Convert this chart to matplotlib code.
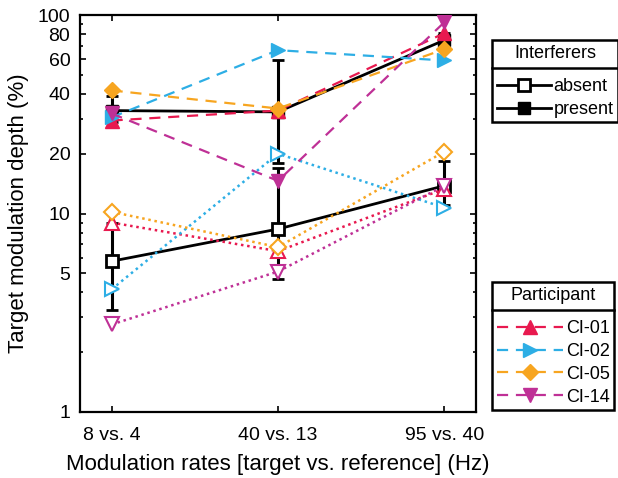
import matplotlib
matplotlib.use("Agg")
import matplotlib.pyplot as plt
from matplotlib.lines import Line2D

plt.rcParams['font.family'] = ['Liberation Sans', 'DejaVu Sans']

# conditions on the x axis
conditions = ['8 vs. 4', '40 vs. 13', '95 vs. 40']
xpos = [1, 2, 3]

# group means (target modulation depth, %)
mean_present = [33.0, 32.5, 74.7]
mean_present_lo = [29.0, 18.0, 68.0]
mean_present_hi = [39.0, 59.0, 81.0]
mean_absent = [5.75, 8.35, 13.8]
mean_absent_lo = [3.25, 4.7, 11.0]
mean_absent_hi = [9.0, 17.0, 18.4]

# individual participants
participants = ['CI-01', 'CI-02', 'CI-05', 'CI-14']
present = {
    'CI-01': [29.4, 33.0, 81.0],
    'CI-02': [30.5, 66.5, 59.0],
    'CI-05': [41.7, 33.8, 67.3],
    'CI-14': [31.9, 14.6, 92.0],
}
absent = {
    'CI-01': [9.0, 6.46, 13.3],
    'CI-02': [4.15, 20.0, 10.7],
    'CI-05': [10.2, 6.77, 20.5],
    'CI-14': [2.76, 5.1, 13.8],
}
colors = {'CI-01': '#E8194F', 'CI-02': '#2DAEE5', 'CI-05': '#F7A520', 'CI-14': '#BF3096'}
markers = {'CI-01': '^', 'CI-02': '>', 'CI-05': 'D', 'CI-14': 'v'}
msizes = {'CI-01': 10, 'CI-02': 10, 'CI-05': 8, 'CI-14': 10}

fig = plt.figure(figsize=(6.18, 4.78), dpi=100)
ax = fig.add_axes([80 / 618, 1 - 412 / 478, (476 - 80) / 618, (412 - 15) / 478])

# group means with error bars
ax.errorbar(xpos, mean_present,
            yerr=[[m - l for m, l in zip(mean_present, mean_present_lo)],
                  [h - m for m, h in zip(mean_present, mean_present_hi)]],
            color='black', lw=2, marker='s', ms=9, mfc='black', mec='black',
            capsize=4, capthick=2, elinewidth=2.2, zorder=2)
ax.errorbar(xpos, mean_absent,
            yerr=[[m - l for m, l in zip(mean_absent, mean_absent_lo)],
                  [h - m for m, h in zip(mean_absent, mean_absent_hi)]],
            color='black', lw=2, marker='s', ms=9, mfc='white', mec='black', mew=2,
            capsize=4, capthick=2, elinewidth=2.2, zorder=2)

for p in participants:
    c = colors[p]
    ax.plot(xpos, present[p], color=c, lw=1.6, ls=(0, (5, 3.5)),
            marker=markers[p], ms=msizes[p], mfc=c, mec=c, zorder=3)
    ax.plot(xpos, absent[p], color=c, lw=1.8, ls=(0, (1, 1.5)),
            marker=markers[p], ms=msizes[p], mfc='white', mec=c, mew=1.5, zorder=3)

ax.set_yscale('log')
ax.set_ylim(1, 100)
ax.set_xlim(0.81, 3.19)
ax.set_yticks([1, 5, 10, 20, 40, 60, 80, 100])
ax.set_yticklabels(['1', '5', '10', '20', '40', '60', '80', '100'])
ax.set_yticks([2, 3, 4, 6, 7, 8, 9, 30, 50, 70, 90], minor=True)
ax.set_xticks(xpos)
ax.set_xticklabels(conditions)
ax.tick_params(which='both', direction='in', top=True, right=True, labelsize=14,
               width=1.2, color='black')
ax.tick_params(which='major', length=4.5)
ax.tick_params(which='minor', length=2.5, labelleft=False)
ax.tick_params(axis='x', which='minor', bottom=False, top=False)
ax.tick_params(axis='x', pad=11)
ax.tick_params(axis='y', pad=7)
for s in ax.spines.values():
    s.set_linewidth(1.6)

ax.set_xlabel('Modulation rates [target vs. reference] (Hz)', fontsize=16, labelpad=7)
ax.set_ylabel('Target modulation depth (%)', fontsize=16, labelpad=6)

# legends
leg_kw = dict(loc='upper left', bbox_transform=fig.transFigure, fontsize=13,
              title_fontsize=13, handletextpad=0.15, borderpad=0.25,
              labelspacing=0.32, borderaxespad=0, fancybox=False, edgecolor='black',
              framealpha=1)

h_int = [Line2D([], [], color='black', lw=2, marker='s', ms=9, mfc='white', mec='black', mew=2),
         Line2D([], [], color='black', lw=2, marker='s', ms=9, mfc='black', mec='black')]
leg1 = ax.legend(h_int, ['absent', 'present'], title='Interferers', handlelength=3.0,
                 bbox_to_anchor=(492 / 618, 1 - 40 / 478), **leg_kw)
leg1.get_frame().set_linewidth(1.8)
leg1._legend_box.sep = 12
ax.add_artist(leg1)

h_par = [Line2D([], [], color=colors[p], lw=1.6, ls=(0, (5, 3.5)), marker=markers[p],
                ms=msizes[p], mfc=colors[p], mec=colors[p]) for p in participants]
leg2 = ax.legend(h_par, participants, title='Participant', handlelength=3.7,
                 bbox_to_anchor=(492 / 618, 1 - 282 / 478), **leg_kw)
leg2.get_frame().set_linewidth(1.8)
leg2._legend_box.sep = 12

# separator line under each legend title
fig.canvas.draw()
r = fig.canvas.get_renderer()
inv = fig.transFigure.inverted()
for lg in (leg1, leg2):
    fb = lg.get_frame().get_window_extent(r)
    tb = lg.get_title().get_window_extent(r)
    y = inv.transform((0, tb.y0 - 6))[1]
    x0 = inv.transform((fb.x0, 0))[0]
    x1 = inv.transform((fb.x1, 0))[0]
    fig.add_artist(Line2D([x0, x1], [y, y], color='black', lw=1.8,
                          transform=fig.transFigure))

fig.savefig('out.png', dpi=100)
